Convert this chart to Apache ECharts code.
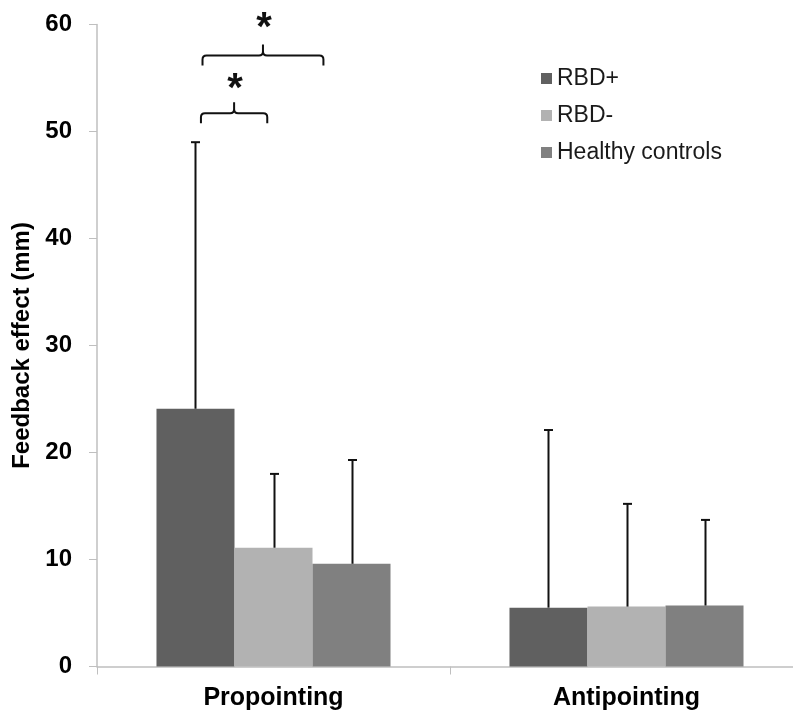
<!DOCTYPE html>
<html>
<head>
<meta charset="utf-8">
<script src="https://cdn.jsdelivr.net/npm/echarts@6/dist/echarts.min.js"></script>
<style>
  * { padding: 0; margin: 0; }
  body { background: #fff; }
</style>
</head>
<body>
<div id="chart" style="width: 793px; height: 713px"></div>
<script>
const categories = ["Propointing", "Antipointing"];
const groups = ["RBD+", "RBD-", "Healthy controls"];
const colors = ["#606060", "#b2b2b2", "#808080"];

// means and SD
const rbdPlus = [24.1, 5.5];
const rbdMinus = [11.1, 5.6];
const controls = [9.6, 5.7];
const rbdPlusSd = [24.9, 16.6];
const rbdMinusSd = [6.9, 9.6];
const controlsSd = [9.7, 8.0];

// significance brackets: [category, start (bar units), end (bar units), level, star level]
const brackets = [
  [0, 0.57, 1.42, 51.7, 53.9],
  [0, 0.59, 2.14, 57.1, 59.6],
];

const means = [rbdPlus, rbdMinus, controls];
const sds = [rbdPlusSd, rbdMinusSd, controlsSd];
const gapRatio = 0.337;

const errData = [];
means.forEach((m, g) => {
  m.forEach((v, c) => errData.push([c, g, v, sds[g][c]]));
});

const chart = echarts.init(document.getElementById("chart"));

function groupLeft(api, cat) {
  const center = api.coord([cat, 0])[0];
  const band = api.size([1, 0])[0];
  const barW = (band * (1 - gapRatio)) / 3;
  return { left: center - barW * 1.5, barW: barW };
}

chart.setOption({
  animation: false,
  textStyle: { fontFamily: "Liberation Sans" },
  grid: {
    left: 97,
    top: 24.5,
    width: 706,
    height: 642,
    outerBoundsMode: "none",
    containLabel: false,
  },
  legend: {
    data: groups,
    orient: "vertical",
    left: 536,
    top: 62,
    itemWidth: 11,
    itemHeight: 11,
    itemGap: 14,
    icon: "rect",
    textStyle: { fontSize: 23, color: "#1a1a1a", lineHeight: 22 },
  },
  xAxis: {
    type: "category",
    data: categories,
    axisLine: { lineStyle: { color: "#bfbfbf", width: 1.5 } },
    axisTick: { show: true, length: 8, lineStyle: { color: "#bfbfbf" } },
    axisLabel: {
      margin: 19,
      fontSize: 25,
      fontWeight: "bold",
      color: "#000",
    },
  },
  yAxis: {
    type: "value",
    min: 0,
    max: 60,
    interval: 10,
    name: "Feedback effect (mm)",
    nameLocation: "middle",
    nameGap: 62,
    nameTextStyle: { fontSize: 24, fontWeight: "bold", color: "#000" },
    splitLine: { show: false },
    axisLine: { show: true, lineStyle: { color: "#bfbfbf", width: 1.5 } },
    axisTick: { show: true, length: 8, lineStyle: { color: "#bfbfbf" } },
    axisLabel: {
      margin: 25,
      fontSize: 24,
      fontWeight: "bold",
      color: "#000",
    },
  },
  series: [
    ...groups.map((name, i) => ({
      name: name,
      type: "bar",
      data: means[i],
      barGap: 0,
      barCategoryGap: gapRatio * 100 + "%",
      itemStyle: { color: colors[i] },
      z: 2,
    })),
    {
      type: "custom",
      name: "sd",
      data: errData,
      z: 3,
      renderItem: function (params, api) {
        const cat = api.value(0);
        const g = api.value(1);
        const top = api.value(2) + api.value(3);
        const gl = groupLeft(api, cat);
        const x = Math.round(gl.left + gl.barW * (g + 0.5)) + 0.5;
        const y0 = api.coord([cat, api.value(2)])[1];
        const y1 = api.coord([cat, top])[1];
        const style = { stroke: "#111", lineWidth: 2 };
        return {
          type: "group",
          children: [
            { type: "line", shape: { x1: x, y1: y0, x2: x, y2: y1 }, style: style },
            { type: "line", shape: { x1: x - 4.5, y1: y1, x2: x + 4.5, y2: y1 }, style: style },
          ],
        };
      },
    },
    {
      type: "custom",
      name: "sig",
      data: brackets,
      z: 4,
      renderItem: function (params, api) {
        const cat = api.value(0);
        const gl = groupLeft(api, cat);
        const x1 = gl.left + gl.barW * api.value(1);
        const x2 = gl.left + gl.barW * api.value(2);
        const xm = (x1 + x2) / 2;
        const yH = api.coord([cat, api.value(3)])[1];
        const yTip = yH + 10;
        const yTop = yH - 11;
        const r = 4;
        const d =
          "M" + x1 + " " + yTip + " L" + x1 + " " + (yH + r) +
          " Q" + x1 + " " + yH + " " + (x1 + r) + " " + yH +
          " L" + (xm - r) + " " + yH +
          " Q" + xm + " " + yH + " " + xm + " " + (yH - r) +
          " L" + xm + " " + yTop +
          " M" + xm + " " + (yH - r) +
          " Q" + xm + " " + yH + " " + (xm + r) + " " + yH +
          " L" + (x2 - r) + " " + yH +
          " Q" + x2 + " " + yH + " " + x2 + " " + (yH + r) +
          " L" + x2 + " " + yTip;
        const ys = api.coord([cat, api.value(4)])[1];
        return {
          type: "group",
          children: [
            {
              type: "path",
              shape: { pathData: d },
              style: { stroke: "#111", lineWidth: 2, fill: null },
            },
            {
              type: "text",
              x: xm + 1,
              y: ys,
              style: {
                text: "*",
                fontSize: 40,
                fontWeight: "bold",
                fontFamily: "Liberation Sans",
                fill: "#111",
                align: "center",
                verticalAlign: "middle",
              },
            },
          ],
        };
      },
    },
  ],
});
</script>
</body>
</html>
